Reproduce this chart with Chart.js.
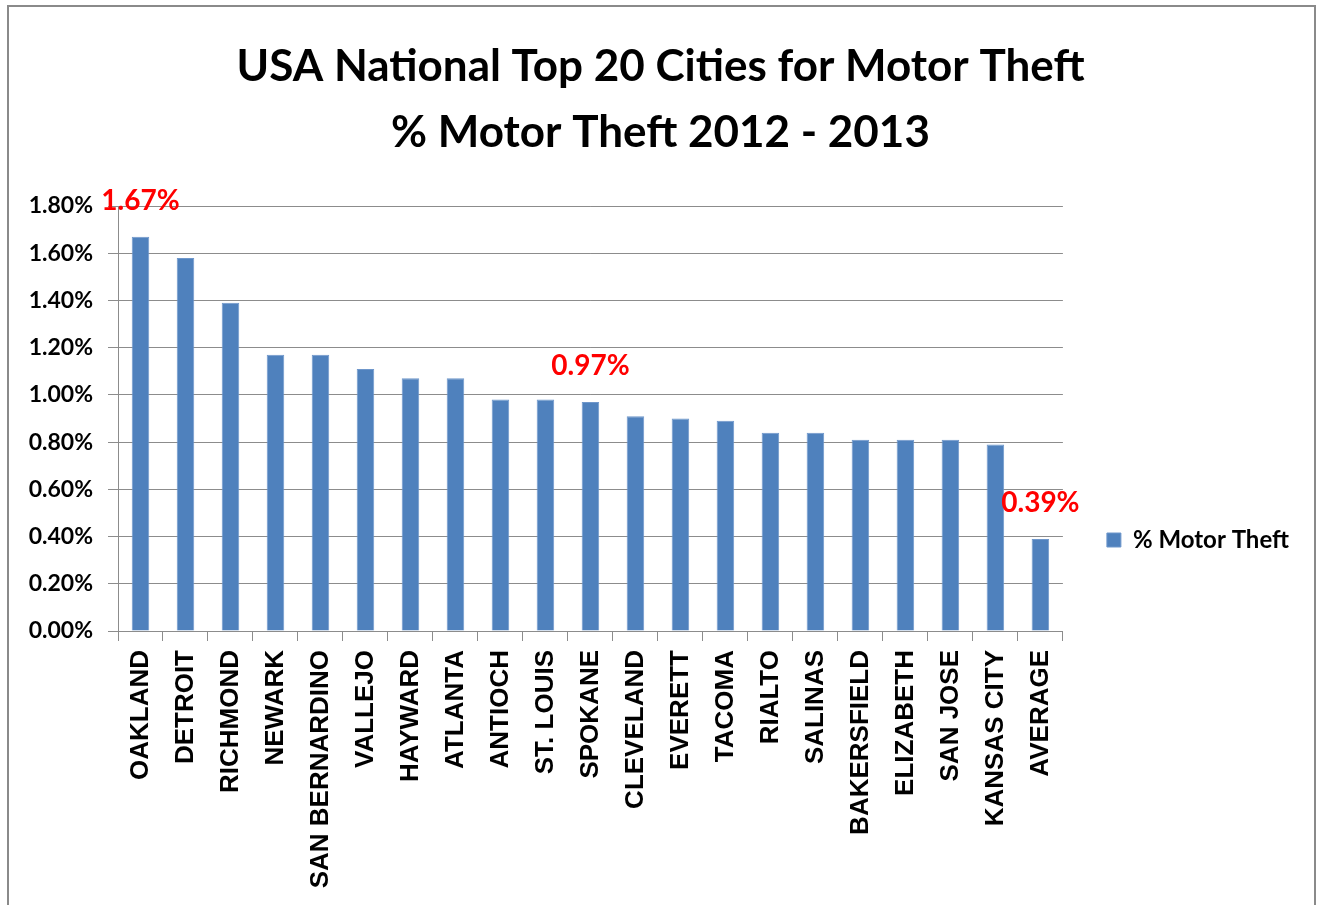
<!DOCTYPE html>
<html>
<head>
<meta charset="utf-8">
<script src="https://cdn.jsdelivr.net/npm/chart.js@4/dist/chart.umd.min.js"></script>
<style>
  html, body { margin: 0; padding: 0; background: #ffffff; }
  #frame { position: absolute; left: 7px; top: 5px; width: 1309px; height: 920px; border: 2px solid #8a8a8a; box-sizing: border-box; }
  #wrap { position: absolute; left: 0; top: 0; width: 1318px; height: 905px; }
</style>
</head>
<body>
<div id="frame"></div>
<div id="wrap"><canvas id="c" width="1318" height="905"></canvas></div>
<script>
const titleLines = ['USA National Top 20 Cities for Motor Theft', '% Motor Theft 2012 - 2013'];
const seriesName = '% Motor Theft';
const cities = ['OAKLAND', 'DETROIT', 'RICHMOND', 'NEWARK', 'SAN BERNARDINO', 'VALLEJO', 'HAYWARD', 'ATLANTA', 'ANTIOCH', 'ST. LOUIS', 'SPOKANE', 'CLEVELAND', 'EVERETT', 'TACOMA', 'RIALTO', 'SALINAS', 'BAKERSFIELD', 'ELIZABETH', 'SAN JOSE', 'KANSAS CITY', 'AVERAGE'];
const motorTheftPct = [1.67, 1.58, 1.39, 1.17, 1.17, 1.11, 1.07, 1.07, 0.98, 0.98, 0.97, 0.91, 0.90, 0.89, 0.84, 0.84, 0.81, 0.81, 0.81, 0.79, 0.39];
const highlightedCities = ['OAKLAND', 'SPOKANE', 'AVERAGE'];
const yTicks = [0, 0.2, 0.4, 0.6, 0.8, 1.0, 1.2, 1.4, 1.6, 1.8];
</script>
<script>
const highlightLabels = {
  id: 'highlightLabels',
  afterDatasetsDraw(chart) {
    const meta = chart.getDatasetMeta(0);
    const ctx = chart.ctx;
    ctx.save();
    ctx.fillStyle = '#ff0000';
    ctx.font = 'bold 28px Lato';
    ctx.textAlign = 'center';
    ctx.textBaseline = 'middle';
    chart.data.labels.forEach((lab, i) => {
      if (highlightedCities.includes(lab)) {
        const el = meta.data[i];
        const v = chart.data.datasets[0].data[i];
        ctx.fillText(v.toFixed(2) + '%', el.x, el.y - 36);
      }
    });
    ctx.restore();
  }
};

new Chart(document.getElementById('c'), {
  type: 'bar',
  data: {
    labels: cities,
    datasets: [{
      label: seriesName,
      data: motorTheftPct,
      backgroundColor: '#4f81bd',
      borderColor: '#6f97cb',
      borderWidth: 1,
      barPercentage: 0.39,
      categoryPercentage: 1.0
    }]
  },
  options: {
    responsive: false,
    animation: false,
    layout: { padding: { left: 22, right: 19, top: 0, bottom: 0 } },
    plugins: {
      title: {
        display: true,
        text: titleLines,
        color: '#000000',
        font: { family: 'Lato', weight: 'bold', size: 44, lineHeight: 66 / 44 },
        padding: { top: 34, bottom: 40 }
      },
      legend: {
        position: 'right',
        align: 'center',
        title: { display: true, text: '', font: { size: 10, lineHeight: 1 }, padding: { top: 0, bottom: 165 } },
        labels: {
          color: '#000000',
          font: { family: 'Lato', weight: 'bold', size: 24 },
          boxWidth: 14,
          boxHeight: 14,
          padding: 44
        }
      },
      tooltip: { enabled: false }
    },
    scales: {
      x: {
        afterFit(scale) { scale.height = 274; },
        grid: { display: true, drawOnChartArea: false, drawTicks: true, tickLength: 10, color: '#8c8c8c', offset: true },
        border: { display: true, color: '#8c8c8c', width: 1 },
        ticks: {
          color: '#000000',
          font: { family: 'Liberation Sans', weight: 'bold', size: 26 },
          minRotation: 90,
          maxRotation: 90,
          autoSkip: false,
          padding: 9
        }
      },
      y: {
        min: 0,
        max: 1.8,
        afterFit(scale) { scale.width = 96; },
        afterBuildTicks(scale) { scale.ticks = yTicks.map(v => ({ value: v })); },
        grid: { color: '#8c8c8c', tickLength: 10, lineWidth: 1 },
        border: { display: true, color: '#8c8c8c', width: 1 },
        ticks: {
          color: '#000000',
          font: { family: 'Lato', weight: 'bold', size: 23 },
          padding: 15,
          callback: (v) => Number(v).toFixed(2) + '%'
        }
      }
    }
  },
  plugins: [highlightLabels]
});
</script>
</body>
</html>
